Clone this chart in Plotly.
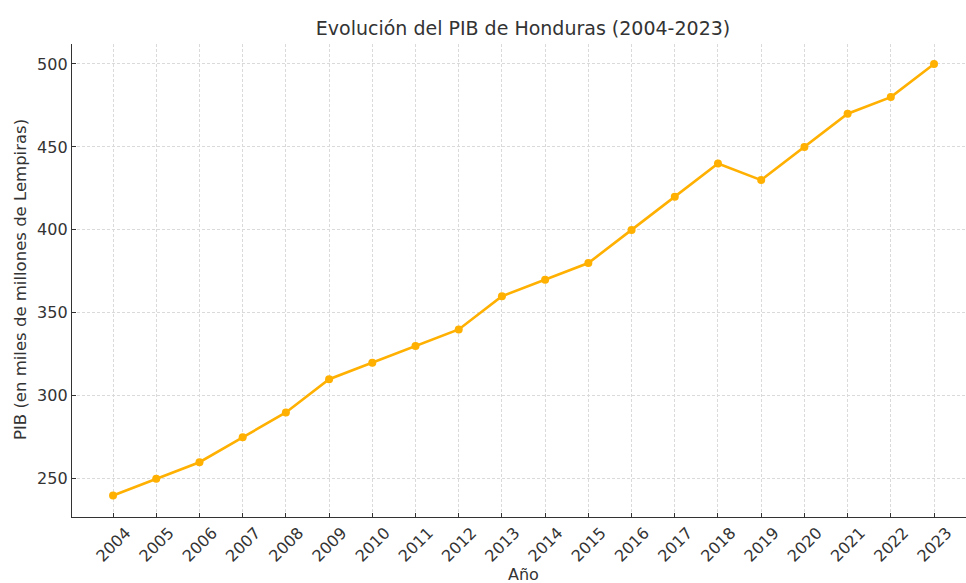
import plotly.graph_objects as go

years = [2004, 2005, 2006, 2007, 2008, 2009, 2010, 2011, 2012, 2013,
         2014, 2015, 2016, 2017, 2018, 2019, 2020, 2021, 2022, 2023]
pib = [240, 250, 260, 275, 290, 310, 320, 330, 340, 360,
       370, 380, 400, 420, 440, 430, 450, 470, 480, 500]
title = "Evolución del PIB de Honduras (2004-2023)"
xlabel = "Año"
ylabel = "PIB (en miles de millones de Lempiras)"

color = "#FFB000"
fig = go.Figure(go.Scatter(
    x=years, y=pib, mode="lines+markers",
    line=dict(color=color, width=2.6),
    marker=dict(color=color, size=8),
))

font = "DejaVu Sans"
W, H = 966, 583
L, R, T, B = 72, 0, 44, 66
fig.update_layout(
    width=W, height=H,
    paper_bgcolor="white", plot_bgcolor="white",
    margin=dict(l=L, r=R, t=T, b=B, autoexpand=False),
    showlegend=False,
    font=dict(family=font, size=16, color="#333333"),
    title=dict(text=title, x=523 / W, xanchor="center", y=1 - 28 / H, yanchor="middle",
               font=dict(size=19, color="#333333")),
    annotations=[
        dict(text=xlabel, xref="paper", yref="paper",
             x=(523 - L) / (W - L - R), y=-(574 - (H - B)) / (H - T - B),
             xanchor="center", yanchor="middle", showarrow=False,
             font=dict(size=16, color="#333333")),
        dict(text=ylabel, xref="paper", yref="paper",
             x=-(L - 20) / (W - L - R), y=((H - B) - 280) / (H - T - B),
             xanchor="center", yanchor="middle", showarrow=False, textangle=-90,
             font=dict(size=16.5, color="#333333")),
    ],
)
grid = dict(showgrid=True, gridcolor="#dadada", griddash="3px,2px", gridwidth=0.8,
            zeroline=False, showline=True, linecolor="#333333", linewidth=1.3,
            ticks="inside", ticklen=4, tickcolor="#333333", automargin=False)
fig.update_xaxes(
    range=[2003.05, 2023.74], tickmode="array", tickvals=years,
    ticktext=[str(y) for y in years], tickangle=-45,
    ticklabelshift=13, ticklabelstandoff=-1,
    tickfont=dict(size=16), **grid,
)
fig.update_yaxes(
    range=[227, 512], tickvals=[250, 300, 350, 400, 450, 500],
    tickfont=dict(size=16), **grid,
)

fig.write_html("out.html", config={"displayModeBar": False},
               post_script="document.body.style.margin='0';")
